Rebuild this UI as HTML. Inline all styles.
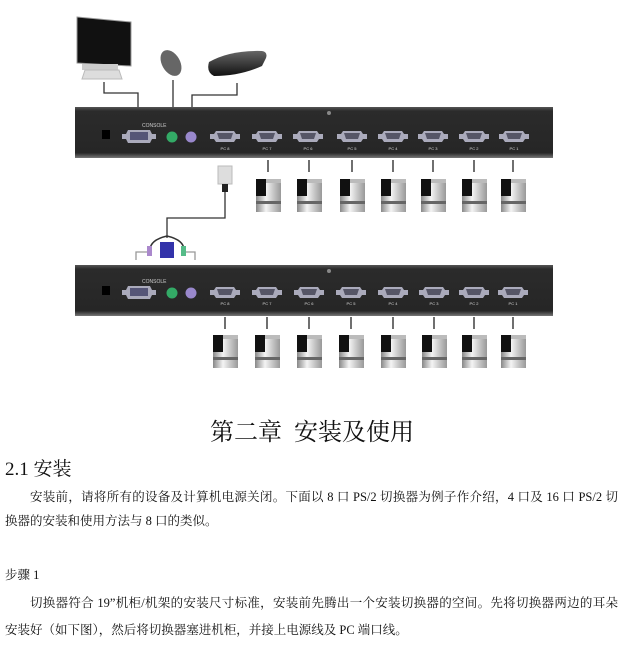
<!DOCTYPE html>
<html><head><meta charset="utf-8"><style>
html,body{margin:0;padding:0;background:#fff;}
body{width:631px;height:671px;position:relative;overflow:hidden;font-family:"Liberation Serif","Noto Serif CJK SC",serif;color:#111;}
.t{position:absolute;white-space:nowrap;}
.j{position:absolute;text-align:justify;text-align-last:justify;white-space:nowrap;overflow:visible;}
</style></head><body>
<svg width="631" height="400" style="position:absolute;left:0;top:0" xmlns="http://www.w3.org/2000/svg">
<defs>
<linearGradient id="pc" x1="0" x2="1" y1="0" y2="0"><stop offset="0" stop-color="#888"/><stop offset="0.4" stop-color="#f4f4f4"/><stop offset="1" stop-color="#999"/></linearGradient>
<linearGradient id="pnl" x1="0" x2="0" y1="0" y2="1"><stop offset="0" stop-color="#555"/><stop offset="0.08" stop-color="#2b2b2b"/><stop offset="0.9" stop-color="#262626"/><stop offset="1" stop-color="#777"/></linearGradient>
<linearGradient id="kb" x1="0" x2="0" y1="0" y2="1"><stop offset="0" stop-color="#666"/><stop offset="1" stop-color="#111"/></linearGradient>
<g id="port"><path d="M-15,-3 h4 l2,-3 h18 l2,3 h4 v5 h-4 l-2,3 h-18 l-2,-3 h-4z" fill="#aab" /><path d="M-8,-4 h16 l-2,6 h-12z" fill="#556"/></g>
<g id="pcu"><rect x="-12" y="0" width="25" height="33" fill="url(#pc)"/><rect x="-12" y="0" width="10" height="17" fill="#111"/><rect x="-2" y="0" width="15" height="4" fill="#bbb"/><rect x="-12" y="22" width="25" height="3" fill="#666"/></g>
</defs>
<!-- monitor -->
<path d="M77,17 L131,22 L131,66 L77,63Z" fill="#111" stroke="#999" stroke-width="1"/>
<rect x="82" y="64" width="36" height="6" fill="#ccc"/><path d="M85,70 h34 l3,9 h-40z" fill="#ddd" stroke="#bbb"/>
<!-- mouse -->
<ellipse cx="171" cy="63" rx="9" ry="14" transform="rotate(-30 171 63)" fill="#666"/>
<!-- keyboard -->
<path d="M209,62 Q230,50 262,51 Q268,52 266,58 L262,66 Q240,76 214,76 Q206,72 209,62Z" fill="url(#kb)"/>
<!-- connector lines -->
<g stroke="#333" stroke-width="1.3" fill="none">
<path d="M104,82 V93 H138 V107"/><path d="M173,80 V107"/><path d="M237,83 V95 H192 V107"/>
<path d="M225,190 V218 H167 V238"/>
<path d="M136,260 V252 H150 M195,260 V252 H184" stroke="#999"/>
</g>
<!-- panels -->
<rect x="75" y="107" width="478" height="51" fill="url(#pnl)"/>
<rect x="75" y="265" width="478" height="51" fill="url(#pnl)"/>
<g id="ptop">
<rect x="102" y="130" width="8" height="9" fill="#000"/>
<path d="M122,134 h4 l2,-4 h22 l2,4 h4 v5 h-4 l-2,4 h-22 l-2,-4 h-4z" fill="#aab"/><rect x="130" y="132" width="18" height="8" fill="#557"/>
<circle cx="172" cy="137" r="5.5" fill="#3a6"/><circle cx="191" cy="137" r="5.5" fill="#98c"/>
<text x="142" y="127" font-size="5" fill="#ccc" font-family="Liberation Sans">CONSOLE</text>
</g>
<use href="#ptop" y="156"/>
<g font-size="4" fill="#ddd" font-family="Liberation Sans" text-anchor="middle">
<use href="#port" x="225" y="137"/><use href="#port" x="267" y="137"/><use href="#port" x="308" y="137"/><use href="#port" x="352" y="137"/><use href="#port" x="393" y="137"/><use href="#port" x="433" y="137"/><use href="#port" x="474" y="137"/><use href="#port" x="514" y="137"/>
<text x="225" y="150">PC 8</text><text x="267" y="150">PC 7</text><text x="308" y="150">PC 6</text><text x="352" y="150">PC 5</text><text x="393" y="150">PC 4</text><text x="433" y="150">PC 3</text><text x="474" y="150">PC 2</text><text x="514" y="150">PC 1</text>
<use href="#port" x="225" y="293"/><use href="#port" x="267" y="293"/><use href="#port" x="309" y="293"/><use href="#port" x="351" y="293"/><use href="#port" x="393" y="293"/><use href="#port" x="434" y="293"/><use href="#port" x="474" y="293"/><use href="#port" x="513" y="293"/>
<text x="225" y="305">PC 8</text><text x="267" y="305">PC 7</text><text x="309" y="305">PC 6</text><text x="351" y="305">PC 5</text><text x="393" y="305">PC 4</text><text x="434" y="305">PC 3</text><text x="474" y="305">PC 2</text><text x="513" y="305">PC 1</text>
</g>
<circle cx="329" cy="113" r="2" fill="#888"/><circle cx="329" cy="271" r="2" fill="#888"/>
<!-- dongle -->
<rect x="218" y="166" width="14" height="18" fill="#ddd" stroke="#bbb"/><rect x="222" y="184" width="6" height="8" fill="#222"/>
<!-- cable bundle -->
<path d="M167,236 Q150,240 150,250 M167,236 Q184,240 184,250" stroke="#333" fill="none" stroke-width="1.5"/>
<rect x="160" y="242" width="14" height="16" fill="#33a"/><rect x="147" y="246" width="5" height="10" fill="#a8c"/><rect x="181" y="246" width="5" height="10" fill="#5b8"/>
<!-- PC stalks + PCs -->
<g stroke="#222" stroke-width="1.3">
<path d="M268,160V172M309,160V172M352,160V172M393,160V172M433,160V172M474,160V172M513,160V172"/>
<path d="M225,317V329M267,317V329M309,317V329M351,317V329M393,317V329M434,317V329M474,317V329M513,317V329"/>
</g>
<use href="#pcu" x="268" y="179"/><use href="#pcu" x="309" y="179"/><use href="#pcu" x="352" y="179"/><use href="#pcu" x="393" y="179"/><use href="#pcu" x="433" y="179"/><use href="#pcu" x="474" y="179"/><use href="#pcu" x="513" y="179"/>
<use href="#pcu" x="225" y="335"/><use href="#pcu" x="267" y="335"/><use href="#pcu" x="309" y="335"/><use href="#pcu" x="351" y="335"/><use href="#pcu" x="393" y="335"/><use href="#pcu" x="434" y="335"/><use href="#pcu" x="474" y="335"/><use href="#pcu" x="513" y="335"/>
</svg>
<div class="j" style="left:210px;top:418px;width:200px;font-size:24px;line-height:30px;">第二章&nbsp;&nbsp;安装及使用</div>
<div class="t" style="left:5px;top:458px;font-size:19px;line-height:24px;">2.1 安装</div>
<div class="j" style="left:30px;top:488px;width:588px;font-size:12.5px;line-height:18px;">安装前，请将所有的设备及计算机电源关闭。下面以 8 口 PS/2 切换器为例子作介绍，4 口及 16 口 PS/2 切</div>
<div class="t" style="left:5px;top:512px;font-size:12.5px;line-height:18px;">换器的安装和使用方法与 8 口的类似。</div>
<div class="t" style="left:5px;top:566px;font-size:12.5px;line-height:18px;">步骤 1</div>
<div class="j" style="left:30px;top:594px;width:588px;font-size:12.5px;line-height:18px;">切换器符合 19”机柜/机架的安装尺寸标准，安装前先腾出一个安装切换器的空间。先将切换器两边的耳朵</div>
<div class="t" style="left:5px;top:621px;font-size:12.5px;line-height:18px;">安装好（如下图），然后将切换器塞进机柜，并接上电源线及 PC 端口线。</div>
</body></html>
